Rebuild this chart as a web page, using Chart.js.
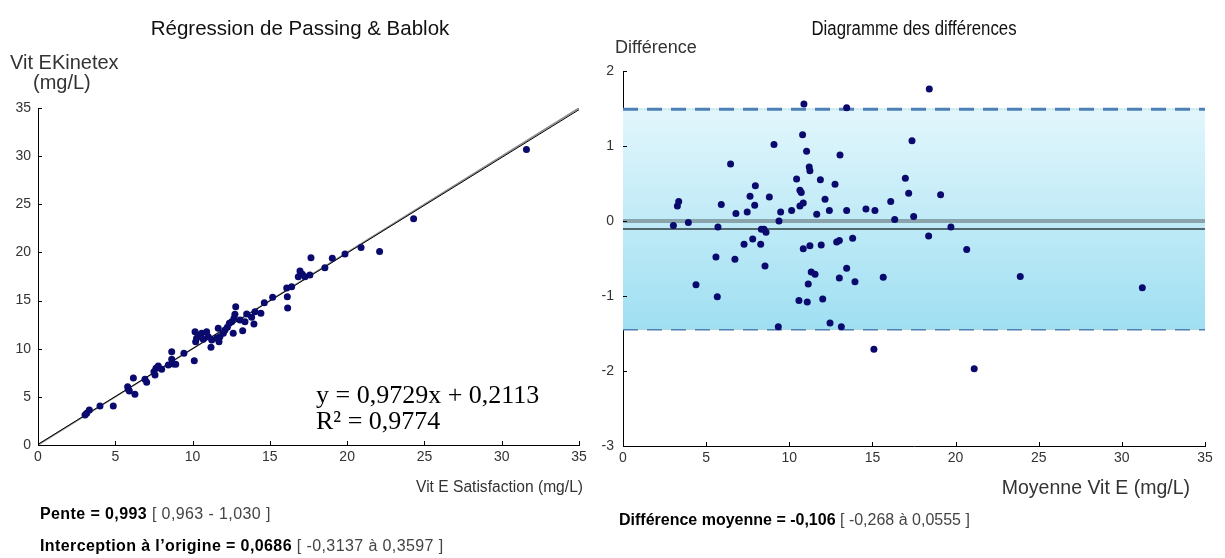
<!DOCTYPE html>
<html>
<head>
<meta charset="utf-8">
<script src="https://cdn.jsdelivr.net/npm/chart.js@4.4.0/dist/chart.umd.min.js"></script>
<style>
    body {
        margin: 0;
        background: #fff;
        width: 1225px;
        height: 558px;
        position: relative;
        overflow: hidden;
        font-family: "Liberation Sans", Arial, sans-serif;
    }
    canvas {
        position: absolute;
        top: 0;
    }
    #chart-left { left: 0; }
    #chart-right { left: 580px; }
    .txt {
        position: absolute;
        white-space: nowrap;
        color: #333;
        font-size: 15px;
        line-height: 16px;
    }
    .title { color: #111; transform-origin: 50% 50%; }
    .eq { font-family: "Liberation Serif", "Times New Roman", serif; font-size: 26px; line-height: 26px; color: #000; }
    .stat b { color: #000; }
    .stat span { color: #444; }
</style>
</head>
<body>
<canvas id="chart-left" width="612" height="558"></canvas>
<canvas id="chart-right" width="645" height="558"></canvas>

<div class="txt title" style="left:300px;top:17px;font-size:20.5px;line-height:22px;transform:translateX(-50%)">Régression de Passing &amp; Bablok</div>
<div class="txt title" style="left:914px;top:17px;font-size:20px;line-height:22px;transform:translateX(-50%) scaleX(0.84)">Diagramme des différences</div>

<div class="txt" style="left:10px;top:51px;font-size:20px;line-height:22px">Vit EKinetex</div>
<div class="txt" style="left:33px;top:71px;font-size:20px;line-height:22px">(mg/L)</div>
<div class="txt" style="left:615px;top:37px;font-size:18px;line-height:20px">Différence</div>

<div class="txt" style="right:642px;top:478px;font-size:15.6px;line-height:18px">Vit E Satisfaction (mg/L)</div>
<div class="txt" style="right:35px;top:476px;font-size:19.5px;line-height:22px">Moyenne Vit E (mg/L)</div>

<div class="txt eq" style="left:316px;top:382px">y = 0,9729x + 0,2113</div>
<div class="txt eq" style="left:316px;top:408px">R² = 0,9774</div>

<div class="txt stat" style="left:40px;top:505px;font-size:16px;line-height:18px;letter-spacing:0.4px"><b>Pente = 0,993</b> <span>[ 0,963 - 1,030 ]</span></div>
<div class="txt stat" style="left:40px;top:537px;font-size:16px;line-height:18px;letter-spacing:0.4px"><b>Interception à l’origine = 0,0686</b> <span>[ -0,3137 à 0,3597 ]</span></div>
<div class="txt stat" style="left:619px;top:511px;font-size:16px;line-height:18px"><b>Différence moyenne = -0,106</b> <span>[ -0,268 à 0,0555 ]</span></div>

<script>
// Passing & Bablok : Vit E Satisfaction (x) vs Vit E Kinetex (y)
const satisfaction = [
    3.04, 3.15, 3.32, 4.01, 4.87, 5.80, 5.84, 5.91, 6.17, 6.27,
    6.92, 7.03, 7.50, 7.57, 7.63, 7.78, 8.00, 8.43, 8.65, 8.65,
    8.75, 8.91, 9.44, 10.11, 10.16, 10.20, 10.26, 10.37, 10.59, 10.69,
    10.91, 11.02, 11.19, 11.24, 11.56, 11.66, 11.71, 11.77, 11.99, 12.10,
    12.25, 12.38, 12.53, 12.63, 12.68, 12.74, 12.79, 13.07, 13.24, 13.39,
    13.50, 13.82, 13.97, 14.04, 14.42, 14.64, 15.18, 16.09, 16.13, 16.15,
    16.41, 16.84, 16.95, 17.10, 17.27, 17.59, 17.66, 18.56, 19.04, 19.86,
    20.9, 22.1, 24.3, 31.6
];
const kinetex = [
    3.12, 3.29, 3.63, 4.05, 4.05, 6.06, 5.78, 5.61, 6.96, 5.26,
    6.82, 6.51, 7.61, 7.27, 7.96, 8.20, 7.86, 8.31, 9.69, 8.90,
    8.41, 8.38, 9.52, 8.75, 11.77, 10.73, 11.08, 11.42, 11.60, 10.98,
    11.77, 11.25, 10.14, 10.90, 11.08, 12.12, 10.73, 11.25, 11.60, 11.94,
    12.22, 12.64, 12.80, 11.60, 13.16, 13.57, 14.36, 12.98, 11.87, 12.80,
    13.60, 13.26, 12.56, 13.84, 13.68, 14.78, 15.34, 16.30, 15.40, 14.23,
    16.44, 17.48, 18.07, 17.73, 17.48, 17.65, 19.45, 18.41, 19.39, 19.83,
    20.5, 20.1, 23.5, 30.7
];
const pbSlope = 0.993;
const pbIntercept = 0.0686;

// Bland-Altman : moyenne vs différence
const moyenne = [
    10.88, 13.45, 10.80, 9.08, 11.04, 13.05, 6.47, 11.20, 11.24, 17.38,
    10.44, 11.87, 16.98, 10.64, 10.72, 7.96, 12.75, 17.18, 7.64, 8.80,
    12.15, 3.35, 3.27, 5.91, 7.92, 10.64, 10.84, 16.10, 7.47, 6.79,
    9.48, 10.14, 11.65, 12.41, 13.45, 14.61, 15.15, 16.34, 17.48, 9.38,
    3.03, 3.93, 5.71,
    8.32, 8.48, 8.60, 7.28, 7.80, 8.28, 10.84, 11.24, 11.92, 12.85,
    13.01, 13.81, 5.59, 6.73, 8.54, 11.32, 11.55, 13.45, 13.01, 13.95,
    15.65, 11.14, 4.39, 5.67, 10.58, 11.08, 12.01, 12.45, 9.34, 13.13,
    15.09,
    18.42, 19.10, 19.72, 18.38, 20.67, 23.89, 31.23, 21.12
];
const difference = [
    1.56, 1.51, 1.15, 1.02, 0.93, 0.88, 0.76, 0.72, 0.67, 1.07,
    0.56, 0.55, 0.57, 0.41, 0.38, 0.47, 0.49, 0.37, 0.33, 0.32,
    0.29, 0.26, 0.20, 0.22, 0.21, 0.20, 0.24, 0.26, 0.12, 0.10,
    0.12, 0.14, 0.09, 0.14, 0.14, 0.16, 0.14, 0.02, 0.06, 0.00,
    -0.06, -0.02, -0.08,
    -0.11, -0.11, -0.15, -0.31, -0.24, -0.31, -0.37, -0.33, -0.32, -0.28,
    -0.26, -0.23, -0.48, -0.51, -0.60, -0.68, -0.71, -0.63, -0.76, -0.81,
    -0.75, -0.84, -0.85, -1.01, -1.06, -1.08, -1.04, -1.36, -1.41, -1.41,
    -1.71,
    1.76, 0.35, -0.08, -0.20, -0.38, -0.74, -0.89, -1.97
];
const meanDiff = -0.106;
const refLine = 0;
const upperLimit = 1.49;
const lowerLimit = -1.44;

const xTicks = [0, 5, 10, 15, 20, 25, 30, 35];
const yTicksLeft = [0, 5, 10, 15, 20, 25, 30, 35];
const yTicksRight = [-3, -2, -1, 0, 1, 2];

const pointColor = "#0a0a6e";
const tickFont = { family: "'Liberation Sans', Arial, sans-serif", size: 14 };

const inwardTicks = {
    id: "inwardTicks",
    afterDatasetsDraw(chart) {
        const { ctx, chartArea, scales } = chart;
        ctx.save();
        ctx.strokeStyle = "#000";
        ctx.lineWidth = 1;
        for (let t of scales.x.ticks) {
            const px = Math.round(scales.x.getPixelForValue(t.value)) + 0.5;
            ctx.beginPath();
            ctx.moveTo(px, chartArea.bottom);
            ctx.lineTo(px, chartArea.bottom - 4);
            ctx.stroke();
        }
        for (let t of scales.y.ticks) {
            const py = Math.round(scales.y.getPixelForValue(t.value)) + 0.5;
            ctx.beginPath();
            ctx.moveTo(chartArea.left, py);
            ctx.lineTo(chartArea.left + 4, py);
            ctx.stroke();
        }
        ctx.restore();
    },
};

function axis(min, max, ticks, fitKey, fitSize, pad) {
    return {
        type: "linear",
        min: min,
        max: max,
        afterBuildTicks: (s) => {
            s.ticks = ticks.map((v) => ({ value: v }));
        },
        afterFit: (s) => {
            s[fitKey] = fitSize;
        },
        ticks: { color: "#333", font: tickFont, padding: pad, maxRotation: 0 },
        grid: { display: false, drawTicks: false },
        border: { display: true, color: "#000", width: 1 },
    };
}

const baseOptions = {
    responsive: false,
    animation: false,
    events: [],
    plugins: { legend: { display: false }, tooltip: { enabled: false } },
};

new Chart(document.getElementById("chart-left"), {
    type: "scatter",
    data: {
        datasets: [
            {
                data: satisfaction.map((x, i) => ({ x: x, y: kinetex[i] })),
                backgroundColor: pointColor,
                pointRadius: 3.5,
                borderWidth: 0,
            },
            {
                type: "line",
                data: [0, 35].map((x) => ({ x: x, y: pbIntercept + pbSlope * x })),
                borderColor: "#000",
                borderWidth: 1,
                pointRadius: 0,
            },
            {
                type: "line",
                data: [0, 35].map((x) => ({ x: x, y: x })),
                borderColor: "#8c8c8c",
                borderWidth: 1.5,
                pointRadius: 0,
            },
        ],
    },
    options: {
        ...baseOptions,
        layout: { padding: { left: 0, right: 33, top: 108, bottom: 83 } },
        scales: {
            x: axis(0, 35, xTicks, "height", 30, 4),
            y: axis(0, 35, yTicksLeft, "width", 38, 7),
        },
    },
    plugins: [inwardTicks],
});

function bandGradient(ctx) {
    const chart = ctx.chart;
    const { chartArea, scales } = chart;
    if (!chartArea) {
        return "#c6eef9";
    }
    const g = chart.ctx.createLinearGradient(
        0,
        scales.y.getPixelForValue(upperLimit),
        0,
        scales.y.getPixelForValue(lowerLimit)
    );
    g.addColorStop(0, "#e2f6fc");
    g.addColorStop(1, "#9fdff2");
    return g;
}

new Chart(document.getElementById("chart-right"), {
    type: "scatter",
    data: {
        datasets: [
            {
                data: moyenne.map((x, i) => ({ x: x, y: difference[i] })),
                backgroundColor: pointColor,
                pointRadius: 3.5,
                borderWidth: 0,
            },
            {
                type: "line",
                data: [0, 35].map((x) => ({ x: x, y: meanDiff })),
                borderColor: "#2e3c40",
                borderWidth: 1.5,
                pointRadius: 0,
            },
            {
                type: "line",
                data: [0, 35].map((x) => ({ x: x, y: refLine })),
                borderColor: "rgba(120,140,145,0.75)",
                borderWidth: 4,
                pointRadius: 0,
            },
            {
                type: "line",
                data: [0, 35].map((x) => ({ x: x, y: upperLimit })),
                borderColor: "#4f80b4",
                borderWidth: 3,
                borderDash: [15, 9],
                pointRadius: 0,
                fill: "+1",
                backgroundColor: bandGradient,
            },
            {
                type: "line",
                data: [0, 35].map((x) => ({ x: x, y: lowerLimit })),
                borderColor: "#4f80b4",
                borderWidth: 3,
                borderDash: [15, 9],
                pointRadius: 0,
            },
            {
                type: "line",
                data: [
                    { x: 0, y: upperLimit },
                    { x: 35, y: upperLimit },
                    { x: 35, y: lowerLimit },
                    { x: 0, y: lowerLimit },
                ],
                borderColor: "#6fb2c4",
                borderWidth: 1,
                pointRadius: 0,
            },
        ],
    },
    options: {
        ...baseOptions,
        layout: { padding: { left: 0, right: 20, top: 71, bottom: 82 } },
        scales: {
            x: axis(0, 35, xTicks, "height", 30, 4),
            y: axis(-3, 2, yTicksRight, "width", 43, 9),
        },
    },
    plugins: [inwardTicks],
});
</script>
</body>
</html>
